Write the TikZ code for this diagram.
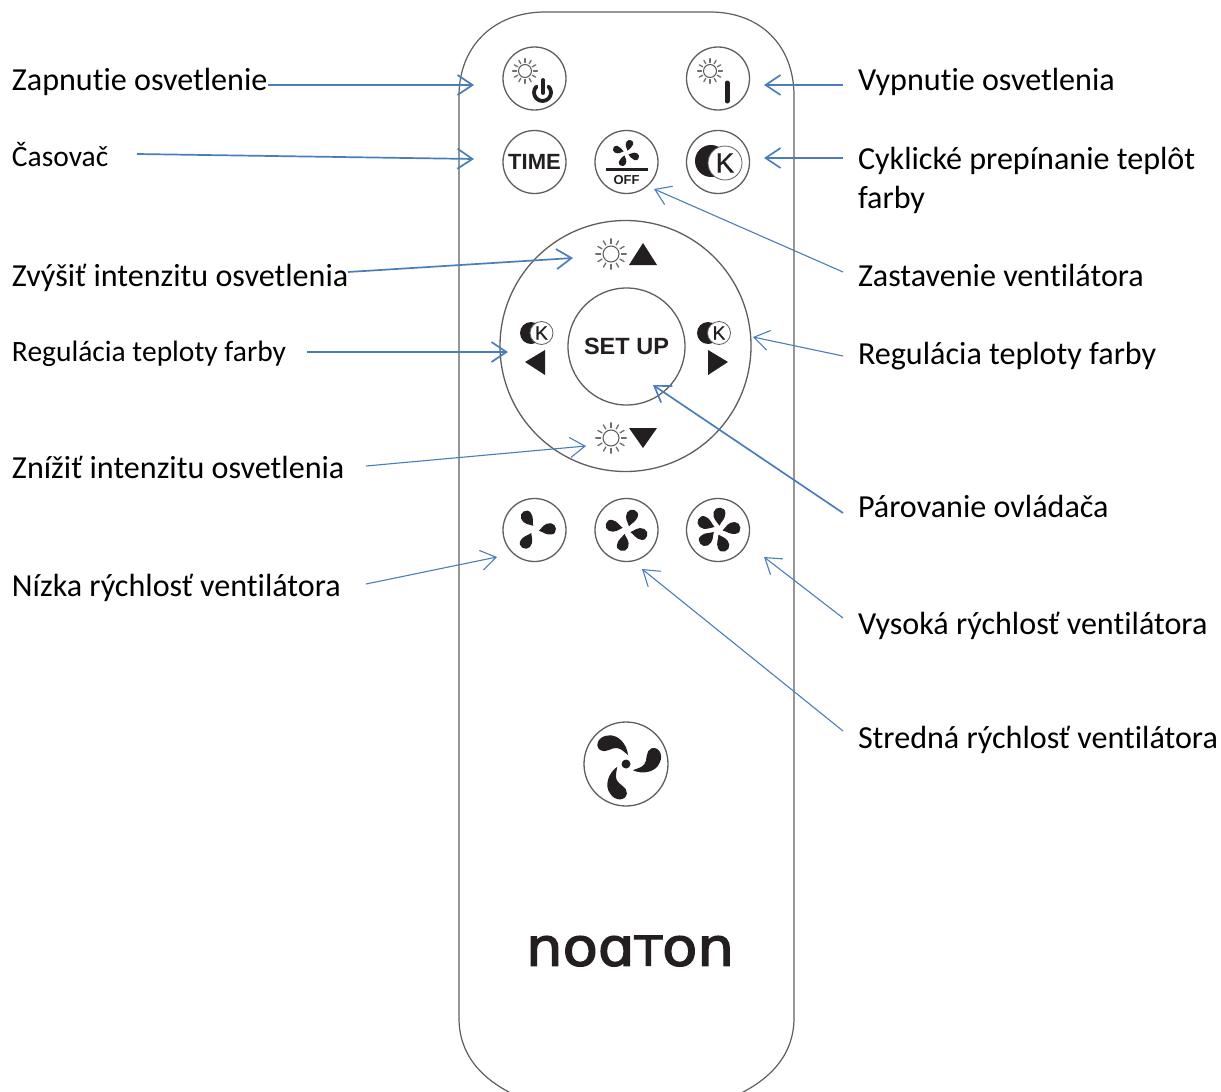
\documentclass[tikz,border=0pt]{standalone}
\usepackage{fontspec}
\setmainfont{Carlito}[Ligatures=NoCommon]
\newfontfamily\iconfont{Liberation Sans}[BoldFont={Liberation Sans Bold}]
\newfontfamily\kfont{Liberation Sans}[FakeBold=0.6]
\newfontfamily\logofont{DejaVu Sans}[FakeBold=2.4]
\usetikzlibrary{arrows.meta}
\definecolor{arrowblue}{HTML}{4A7EBB}
\definecolor{ink}{HTML}{231F20}
\definecolor{rim}{HTML}{5E5E5E}
\tikzset{
  lbl/.style={anchor=base west,inner sep=0pt,outer sep=0pt,text=black,font=\fontsize{32.1}{38}\selectfont},
  lblsmall/.style={lbl,font=\fontsize{29.5}{35}\selectfont},
  btn/.style={circle,draw=rim,line width=1.3pt,minimum size=63pt,inner sep=0pt},
  conn/.style={draw=arrowblue,line width=1.1pt,-{Straight Barb[length=15pt,width=20pt,line width=1.1pt]}},
  connb/.style={conn,line width=1.7pt,-{Straight Barb[length=15pt,width=20pt,line width=1.7pt]}},
  icontext/.style={text=ink,inner sep=0pt,font=\iconfont\bfseries\fontsize{#1}{#1}\selectfont},
  ktext/.style={text=ink,inner sep=0pt,font=\kfont\fontsize{#1}{#1}\selectfont},
  pics/blade/.style={code={\fill[ink] (0.02,-0.2) .. controls (-0.12,-0.34) and (-0.36,-0.42) .. (-0.36,-0.72)
     .. controls (-0.36,-1.0) and (0.1,-1.08) .. (0.15,-0.78)
     .. controls (0.2,-0.52) and (0.06,-0.42) .. cycle;}},
  pics/hook/.style={code={\fill[ink] (2,-9) .. controls (1,-20) and (-8,-30) .. (-18,-28.5)
     .. controls (-27,-28) and (-32,-19) .. (-26,-14)
     .. controls (-21,-10) and (-14,-17) .. (-9,-16)
     .. controls (-4,-15) and (-2,-12) .. cycle;}},
}
\newcommand{\sunicon}[3]{% x,y,r
  \draw[ink!75,line width=1pt] (#1,#2) circle (#3);
  \foreach \a in {0,30,...,330}{
    \draw[ink!65,line width=1.3pt,line cap=round] ([shift={(\a:#3*1.3)}]#1,#2) -- ([shift={(\a:#3*1.9)}]#1,#2);}
}
\newcommand{\kicon}[7]{% moon x,y,r ; k x,y,r ; font size
  \fill[ink] (#1,#2) circle (#3);
  \node[circle,draw=rim,fill=white,line width=0.8pt,minimum size=#6*2pt,inner sep=0pt,ktext=#7] at (#4,#5) {K};
}
\begin{document}
\begin{tikzpicture}[x=1pt,y=-1pt]
\useasboundingbox (0,0) rectangle (1221,1092);
\fill[white] (0,0) rectangle (1221,1092);
\begin{scope}
\clip (0,0) rectangle (1221,1092);
\draw[rim,line width=1.2pt] (459,96) .. controls (459,45) and (495,12) .. (545,12) -- (710,12)
  .. controls (760,12) and (794,45) .. (794,96) -- (794,1018)
  .. controls (794,1055) and (770,1080) .. (735,1096) -- (517,1096)
  .. controls (482,1080) and (459,1055) .. (459,1018) -- cycle;
\end{scope}
% buttons
\node[btn] (bOn) at (534.5,78.5) {};
\node[btn] (bOff) at (718,78.5) {};
\node[btn] (bTime) at (534.5,162) {};
\node[btn] (bStop) at (626.5,162) {};
\node[btn] (bCct) at (718,162) {};
\node[btn,minimum size=251pt] (ring) at (625.5,346) {};
\node[btn,minimum size=117pt] (bSet) at (626.5,346.5) {};
\node[btn] (bLow) at (534.5,530) {};
\node[btn] (bMid) at (626.5,530) {};
\node[btn] (bHigh) at (718,530) {};
\node[btn,minimum size=84pt] (bFan) at (626,764) {};
% on / off icons
\sunicon{525}{71}{6.5}
\draw[ink,line width=3.8pt,line cap=round] (536.5,86.5) arc[start angle=225,end angle=-45,radius=8.5];
\draw[ink,line width=3.8pt,line cap=round] (543,80) -- (543,93);
\sunicon{710}{71}{6.5}
\draw[ink,line width=5pt,line cap=round] (727,83) -- (727,101);
% time
\node[icontext=22] (tTime) at (bTime) {TIME};
% stop
\foreach \r in {-29,-119,151,61}{\pic[scale=14,rotate=\r] at (626,153) {blade};}
\draw[ink,line width=2.6pt] (606,169.5) -- (648,169.5);
\node[icontext=13] (tOff) at (626.5,180.5) {OFF};
% cct
\kicon{711}{161}{16}{725}{163}{17}{28}
% ring icons
\sunicon{611}{254}{8}
\fill[ink] (629,265) -- (657,265) -- (643,243) -- cycle;
\sunicon{611}{438}{8}
\fill[ink] (629,428) -- (657,428) -- (643,448) -- cycle;
\kicon{531}{333}{11}{541.5}{333}{11.5}{19}
\fill[ink] (525,362) -- (545,350) -- (545,375) -- cycle;
\kicon{708}{333}{11}{719}{333}{11.5}{19}
\fill[ink] (708,350) -- (708,375) -- (728,362) -- cycle;
\node[icontext=23.5] (tSet) at (bSet) {SET UP};
% fans
\foreach \r in {23,-94,138}{\pic[scale=22,rotate=\r] at (534.5,530) {blade};}
\foreach \r in {-29,-113,158,66}{\pic[scale=22,rotate=\r] at (626.5,530) {blade};}
\foreach \r in {-13,-91,-169,120,54}{\pic[scale=23,rotate=\r] at (718,530) {blade};}
\fill[ink] (626,764) circle (4.5);
\foreach \r in {0,-120,120}{\pic[rotate=\r] at (626,764) {hook};}
% logo
\node[inner sep=0pt,text=ink] (logo) at (630,951) {\resizebox{208pt}{30pt}{\logofont no\char"0251 \raisebox{0pt}{\scalebox{0.78}{T}}on}};
% labels
\node[lbl] (lOn) at (12,90) {Zapnutie osvetlenie};
\node[lblsmall] (lTime) at (12,166) {Časovač};
\node[lbl] (lUp) at (12,286) {Zvýšiť intenzitu osvetlenia};
\node[lblsmall] (lCctL) at (12,361.5) {Regulácia teploty farby};
\node[lbl] (lDown) at (12,478) {Znížiť intenzitu osvetlenia};
\node[lbl] (lLow) at (12,596) {Nízka rýchlosť ventilátora};
\node[lbl] (lOff) at (858,90) {Vypnutie osvetlenia};
\node[lbl] (lCct) at (858,169) {Cyklické prepínanie teplôt};
\node[lbl] (lCct2) at (858,208) {farby};
\node[lbl] (lStop) at (858,286) {Zastavenie ventilátora};
\node[lbl] (lCctR) at (858,364) {Regulácia teploty farby};
\node[lbl] (lPair) at (858,517) {Párovanie ovládača};
\node[lbl] (lHigh) at (858,634) {Vysoká rýchlosť ventilátora};
\node[lbl] (lMid) at (858,748) {Stredná rýchlosť ventilátora};
% connector ends
\coordinate (sOn) at (268,85);   \coordinate (eOn) at (474,85);
\coordinate (sTime) at (137,154);\coordinate (eTime) at (474,159);
\coordinate (sUp) at (348,272);  \coordinate (eUp) at (573,258);
\coordinate (sCctL) at (307,352);\coordinate (eCctL) at (508,352);
\coordinate (sDown) at (366,466);\coordinate (eDown) at (586,446);
\coordinate (sLow) at (366,584); \coordinate (eLow) at (497,557);
\coordinate (sOff) at (843,85);  \coordinate (eOff) at (764,85);
\coordinate (sCct) at (843,158); \coordinate (eCct) at (764,158);
\coordinate (sStop) at (843,272);\coordinate (eStop) at (654,189);
\coordinate (sCctR) at (843,356);\coordinate (eCctR) at (753,337);
\coordinate (sPair) at (843,513);\coordinate (ePair) at (653,385);
\coordinate (sHigh) at (843,618);\coordinate (eHigh) at (764,557);
\coordinate (sMid) at (843,731); \coordinate (eMid) at (642,569);
\draw[connb] (sOn) -- (eOn);
\draw[connb] (sTime) -- (eTime);
\draw[connb] (sUp) -- (eUp);
\draw[connb] (sCctL) -- (eCctL);
\draw[conn] (sDown) -- (eDown);
\draw[conn] (sLow) -- (eLow);
\draw[connb] (sOff) -- (eOff);
\draw[connb] (sCct) -- (eCct);
\draw[conn] (sStop) -- (eStop);
\draw[conn] (sCctR) -- (eCctR);
\draw[connb] (sPair) -- (ePair);
\draw[conn] (sHigh) -- (eHigh);
\draw[conn] (sMid) -- (eMid);
\end{tikzpicture}
\end{document}
